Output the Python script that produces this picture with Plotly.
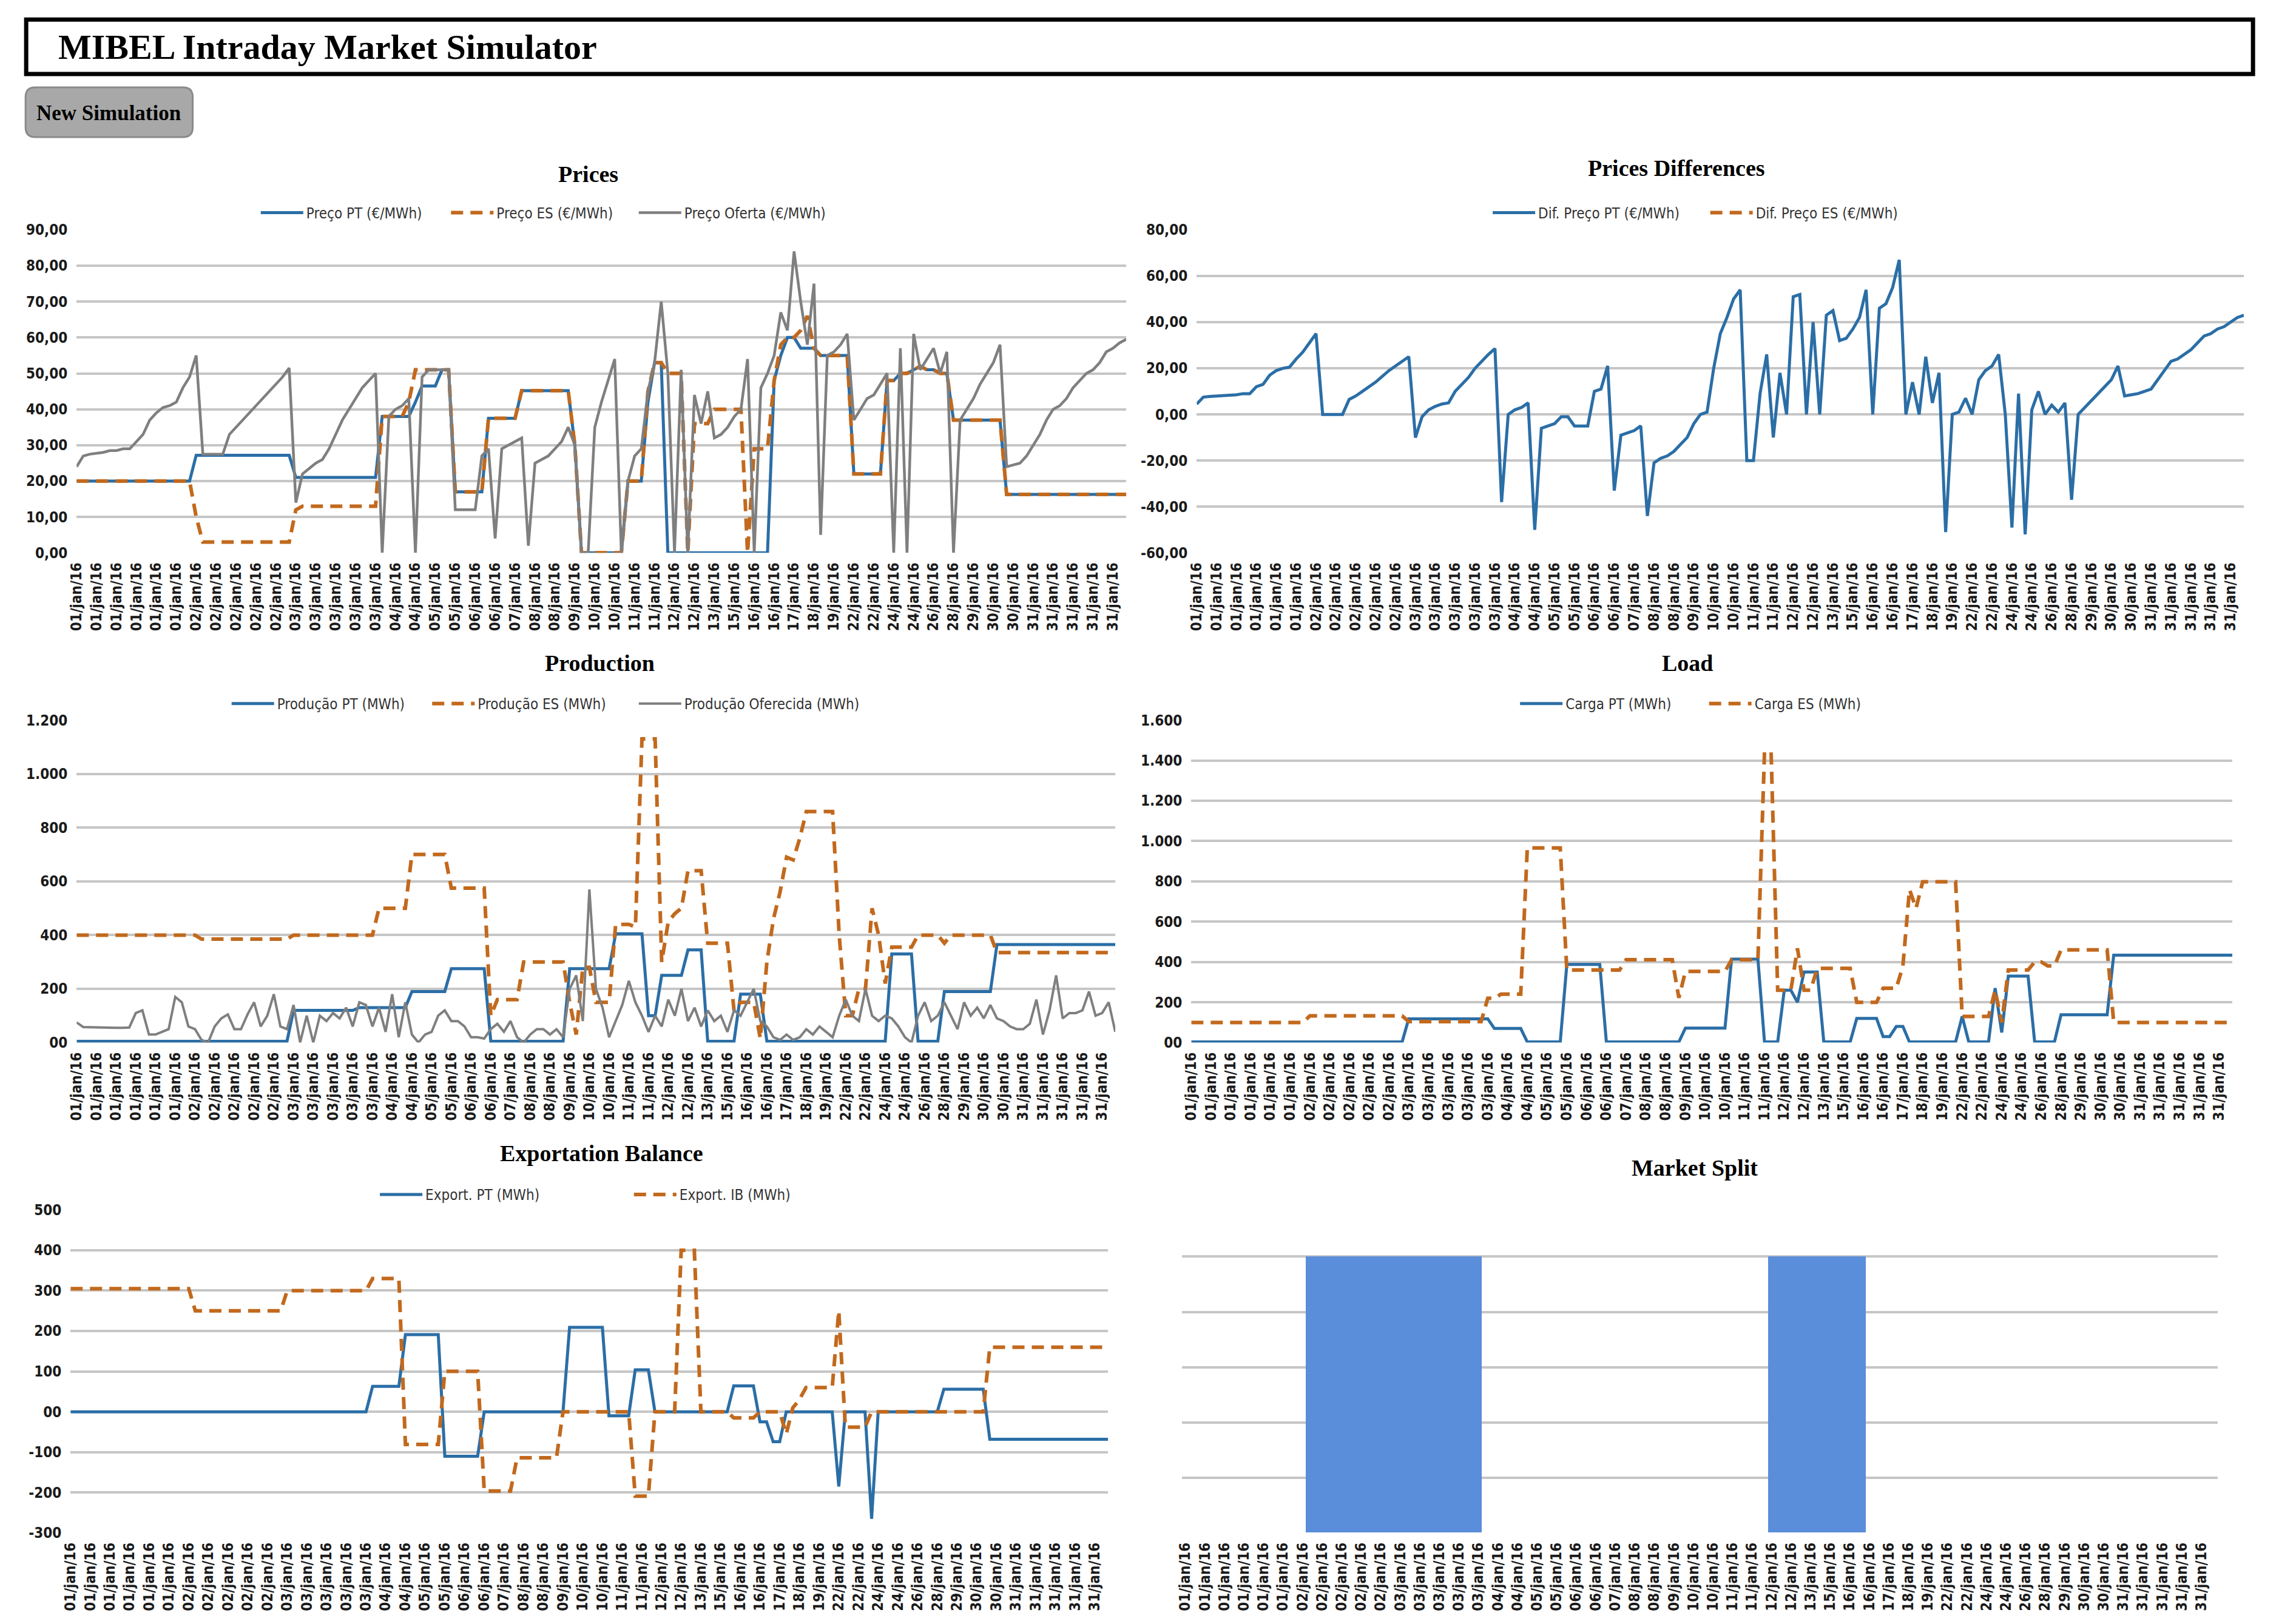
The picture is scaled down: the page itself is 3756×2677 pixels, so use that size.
import plotly.graph_objects as go

# reference canvas; figure inset by the page's 8px body margin
W, H = 3756, 2677
OFF = 8
FW, FH = W - 2 * OFF, H - 2 * OFF

# ---------------- data ----------------
x_labels = [
    "01/jan/16", "01/jan/16", "01/jan/16", "01/jan/16", "01/jan/16", "01/jan/16",
    "02/jan/16", "02/jan/16", "02/jan/16", "02/jan/16", "02/jan/16",
    "03/jan/16", "03/jan/16", "03/jan/16", "03/jan/16", "03/jan/16",
    "04/jan/16", "04/jan/16", "05/jan/16", "05/jan/16", "06/jan/16", "06/jan/16",
    "07/jan/16", "08/jan/16", "08/jan/16", "09/jan/16", "10/jan/16", "10/jan/16",
    "11/jan/16", "11/jan/16", "12/jan/16", "12/jan/16", "13/jan/16", "15/jan/16",
    "16/jan/16", "16/jan/16", "17/jan/16", "18/jan/16", "19/jan/16", "22/jan/16",
    "22/jan/16", "24/jan/16", "24/jan/16", "26/jan/16", "28/jan/16", "29/jan/16",
    "30/jan/16", "30/jan/16", "31/jan/16", "31/jan/16", "31/jan/16", "31/jan/16",
    "31/jan/16",
]

preco_pt = [
    20, 20, 20, 20, 20, 20, 20, 20, 20, 20,
    20, 20, 20, 20, 20, 20, 20, 20, 27.2, 27.2,
    27.2, 27.2, 27.2, 27.2, 27.2, 27.2, 27.2, 27.2, 27.2, 27.2,
    27.2, 27.2, 27.2, 21, 21, 21, 21, 21, 21, 21,
    21, 21, 21, 21, 21, 21, 38, 38, 38, 38,
    38, 42, 46.5, 46.5, 46.5, 51, 51, 17, 17, 17,
    17, 17, 37.5, 37.5, 37.5, 37.5, 37.5, 45.2, 45.2, 45.2,
    45.2, 45.2, 45.2, 45.2, 45.2, 30, 0, 0, 0, 0,
    0, 0, 0, 20, 20, 20, 42, 53, 53, 0,
    0, 0, 0, 0, 0, 0, 0, 0, 0, 0,
    0, 0, 0, 0, 0, 48, 55, 60, 60, 57,
    57, 57, 55, 55, 55, 55, 55, 22, 22, 22,
    22, 22, 48, 48, 50, 50, 51, 52, 51, 51,
    50, 50, 37, 37, 37, 37, 37, 37, 37, 37,
    16.3, 16.3, 16.3, 16.3, 16.3, 16.3, 16.3, 16.3, 16.3, 16.3,
    16.3, 16.3, 16.3, 16.3, 16.3, 16.3, 16.3, 16.3, 16.3,
]

preco_es = [
    20, 20, 20, 20, 20, 20, 20, 20, 20, 20,
    20, 20, 20, 20, 20, 20, 20, 20, 10, 3,
    3, 3, 3, 3, 3, 3, 3, 3, 3, 3,
    3, 3, 3, 12, 13, 13, 13, 13, 13, 13,
    13, 13, 13, 13, 13, 13, 38, 38, 38, 38,
    42, 51, 51, 51, 51, 51, 51, 17, 17, 17,
    17, 17, 37.5, 37.5, 37.5, 37.5, 37.5, 45.2, 45.2, 45.2,
    45.2, 45.2, 45.2, 45.2, 45.2, 30, 0, 0, 0, 0,
    0, 0, 0, 20, 20, 20, 45, 53, 53, 50,
    50, 50, 0, 36, 36, 36, 40, 40, 40, 40,
    40, 0, 29, 29, 29, 48, 58, 60, 60, 62,
    66, 57, 55, 55, 55, 55, 55, 22, 22, 22,
    22, 22, 48, 48, 50, 50, 51, 52, 51, 51,
    50, 50, 37, 37, 37, 37, 37, 37, 37, 37,
    16.3, 16.3, 16.3, 16.3, 16.3, 16.3, 16.3, 16.3, 16.3, 16.3,
    16.3, 16.3, 16.3, 16.3, 16.3, 16.3, 16.3, 16.3, 16.3,
]

preco_oferta = [
    24, 27, 27.5, 27.8, 28, 28.5, 28.5, 29, 29, 31,
    33, 37, 39, 40.5, 41, 42, 46, 49, 55, 27.5,
    27.5, 27.5, 27.5, 33, 35, 37, 39, 41, 43, 45,
    47, 49, 51.5, 14, 22, 23.5, 25, 26, 29, 33,
    37, 40, 43, 46, 48, 50, 0, 38, 40, 41,
    43, 0, 49, 51, 51, 51, 51, 12, 12, 12,
    12, 27, 29, 4, 29, 30, 31, 32, 2, 25,
    26, 27, 29, 31, 35, 30, 0, 0, 35, 42,
    48, 54, 0, 20, 27, 29, 45, 53, 70, 50,
    0, 51, 0, 44, 36, 45, 32, 33, 35, 38,
    40, 54, 0, 46, 50, 55, 67, 62, 84, 70,
    58, 75, 5, 55, 56, 58, 61, 37, 40, 43,
    44, 47, 50, 0, 57, 0, 61, 51, 54, 57,
    50, 56, 0, 37, 40, 43, 47, 50, 53, 58,
    24, 24.5, 25, 27, 30, 33, 37, 40, 41, 43,
    46, 48, 50, 51, 53, 56, 57, 58.5, 59.5,
]

dif_preco_pt = [
    4.5, 7.5, 7.8, 8, 8, 8.2, 8.5, 9, 9, 12,
    13, 17, 19, 20, 20.5, 24, 27, 31, 35, 0,
    0, 0, 0, 6.5, 8, 10, 12, 14, 16.5, 19,
    21, 23, 25, -10, -1, 2, 3.5, 4.5, 5, 10,
    13, 16, 20, 23, 26, 28.5, -38, 0, 2, 3,
    5, -50, -6, -5, -4, -1, -1, -5, -5, -5,
    10, 11, 21, -33, -9, -8, -7, -5, -44, -21,
    -19, -18, -16, -13, -10, -4, 0, 1, 20, 35,
    42, 50, 54, -20, -20, 9, 26, -10, 18, 0,
    51, 52, 0, 40, 0, 43, 45, 32, 33, 37,
    42, 54, 0, 46, 48, 55, 67, 0, 14, 0,
    25, 5, 18, -51, 0, 1, 7, 0, 15, 19,
    21, 26, 0, -49, 9, -52, 2, 10, 0, 4,
    1, 5, -37, 0, 3, 6, 9, 12, 15, 21,
    8, 8.5, 9, 10, 11, 15, 19, 23, 24, 26,
    28, 31, 34, 35, 37, 38, 40, 42, 43,
]

producao_pt = [
    5, 5, 5, 5, 5, 5, 5, 5, 5, 5,
    5, 5, 5, 5, 5, 5, 5, 5, 5, 5,
    5, 5, 5, 5, 5, 5, 5, 5, 5, 5,
    5, 5, 5, 120, 120, 120, 120, 120, 120, 120,
    120, 120, 120, 130, 130, 130, 130, 130, 130, 130,
    130, 190, 190, 190, 190, 190, 190, 275, 275, 275,
    275, 275, 275, 5, 5, 5, 5, 5, 5, 5,
    5, 5, 5, 5, 5, 275, 275, 275, 275, 275,
    275, 275, 405, 405, 405, 405, 405, 100, 100, 250,
    250, 250, 250, 345, 345, 345, 5, 5, 5, 5,
    5, 180, 180, 180, 180, 5, 5, 5, 5, 5,
    5, 5, 5, 5, 5, 5, 5, 5, 5, 5,
    5, 5, 5, 5, 330, 330, 330, 330, 5, 5,
    5, 5, 190, 190, 190, 190, 190, 190, 190, 190,
    365, 365, 365, 365, 365, 365, 365, 365, 365, 365,
    365, 365, 365, 365, 365, 365, 365, 365, 365,
]

producao_es = [
    400, 400, 400, 400, 400, 400, 400, 400, 400, 400,
    400, 400, 400, 400, 400, 400, 400, 400, 400, 385,
    385, 385, 385, 385, 385, 385, 385, 385, 385, 385,
    385, 385, 385, 400, 400, 400, 400, 400, 400, 400,
    400, 400, 400, 400, 400, 400, 500, 500, 500, 500,
    500, 700, 700, 700, 700, 700, 700, 575, 575, 575,
    575, 575, 575, 100, 160, 160, 160, 160, 300, 300,
    300, 300, 300, 300, 300, 150, 30, 280, 280, 150,
    150, 150, 440, 440, 440, 430, 1130, 1130, 1130, 300,
    450, 480, 500, 640, 640, 640, 370, 370, 370, 370,
    120, 150, 150, 150, 15, 300, 460, 560, 690, 680,
    760, 860, 860, 860, 860, 860, 400, 100, 100, 200,
    200, 500, 400, 220, 355, 355, 355, 355, 400, 400,
    400, 400, 370, 400, 400, 400, 400, 400, 400, 400,
    335, 335, 335, 335, 335, 335, 335, 335, 335, 335,
    335, 335, 335, 335, 335, 335, 335, 335, 335,
]

producao_oferecida = [
    75, 58, 57, 56, 56, 55, 55, 55, 56, 110,
    120, 30, 30, 40, 50, 170, 150, 60, 50, 10,
    0, 60, 90, 105, 50, 50, 105, 150, 60, 100,
    180, 60, 50, 140, 0, 100, 0, 100, 80, 110,
    90, 130, 60, 150, 140, 60, 130, 40, 180, 20,
    150, 30, 0, 30, 40, 100, 120, 80, 80, 60,
    20, 20, 15, 50, 70, 40, 80, 20, 0, 30,
    50, 50, 30, 50, 20, 200, 250, 80, 570, 200,
    130, 20, 80, 140, 230, 150, 100, 40, 100, 60,
    160, 100, 200, 80, 130, 60, 120, 80, 100, 40,
    120, 100, 150, 200, 80, 60, 20, 10, 30, 10,
    20, 50, 30, 60, 40, 20, 100, 160, 100, 80,
    200, 100, 80, 100, 90, 60, 20, 0, 100, 150,
    80, 100, 150, 100, 50, 150, 100, 130, 90, 140,
    90, 80, 60, 50, 50, 70, 160, 30, 120, 250,
    90, 110, 110, 120, 190, 100, 110, 150, 40,
]

carga_pt = [
    3, 3, 3, 3, 3, 3, 3, 3, 3, 3,
    3, 3, 3, 3, 3, 3, 3, 3, 3, 3,
    3, 3, 3, 3, 3, 3, 3, 3, 3, 3,
    3, 3, 3, 118, 118, 118, 118, 118, 118, 118,
    118, 118, 118, 118, 118, 118, 70, 70, 70, 70,
    70, 3, 3, 3, 3, 3, 3, 388, 388, 388,
    388, 388, 388, 3, 3, 3, 3, 3, 3, 3,
    3, 3, 3, 3, 3, 72, 72, 72, 72, 72,
    72, 72, 414, 414, 414, 414, 414, 3, 3, 3,
    260, 260, 200, 350, 350, 350, 3, 3, 3, 3,
    3, 120, 120, 120, 120, 30, 30, 80, 80, 3,
    3, 3, 3, 3, 3, 3, 3, 130, 3, 3,
    3, 3, 270, 50, 330, 330, 330, 330, 3, 3,
    3, 3, 138, 138, 138, 138, 138, 138, 138, 138,
    434, 434, 434, 434, 434, 434, 434, 434, 434, 434,
    434, 434, 434, 434, 434, 434, 434, 434, 434,
]

carga_es = [
    100, 100, 100, 100, 100, 100, 100, 100, 100, 100,
    100, 100, 100, 100, 100, 100, 100, 100, 133, 133,
    133, 133, 133, 133, 133, 133, 133, 133, 133, 133,
    133, 133, 133, 104, 104, 104, 104, 104, 104, 104,
    104, 104, 104, 104, 104, 220, 220, 240, 240, 240,
    240, 966, 966, 966, 966, 966, 966, 360, 360, 360,
    360, 360, 360, 360, 360, 360, 411, 411, 411, 411,
    411, 411, 411, 411, 222, 353, 353, 353, 353, 353,
    353, 353, 411, 411, 411, 411, 411, 1442, 1442, 260,
    260, 260, 468, 260, 260, 368, 368, 368, 368, 368,
    368, 200, 200, 200, 200, 270, 270, 270, 380, 759,
    667, 798, 798, 798, 798, 798, 798, 130, 130, 130,
    130, 130, 260, 100, 360, 360, 360, 360, 400, 400,
    380, 380, 460, 460, 460, 460, 460, 460, 460, 460,
    100, 100, 100, 100, 100, 100, 100, 100, 100, 100,
    100, 100, 100, 100, 100, 100, 100, 100, 100,
]

export_pt = [
    0, 0, 0, 0, 0, 0, 0, 0, 0, 0,
    0, 0, 0, 0, 0, 0, 0, 0, 0, 0,
    0, 0, 0, 0, 0, 0, 0, 0, 0, 0,
    0, 0, 0, 0, 0, 0, 0, 0, 0, 0,
    0, 0, 0, 0, 0, 0, 63, 63, 63, 63,
    63, 191, 191, 191, 191, 191, 191, -110, -110, -110,
    -110, -110, -110, 0, 0, 0, 0, 0, 0, 0,
    0, 0, 0, 0, 0, 0, 209, 209, 209, 209,
    209, 209, -10, -10, -10, -10, 104, 104, 104, 0,
    0, 0, 0, 0, 0, 0, 0, 0, 0, 0,
    0, 64, 64, 64, 64, -25, -25, -74, -74, 0,
    0, 0, 0, 0, 0, 0, 0, -185, 0, 0,
    0, 0, -265, 0, 0, 0, 0, 0, 0, 0,
    0, 0, 0, 56, 56, 56, 56, 56, 56, 56,
    -68, -68, -68, -68, -68, -68, -68, -68, -68, -68,
    -68, -68, -68, -68, -68, -68, -68, -68, -68,
]

export_ib = [
    305, 305, 305, 305, 305, 305, 305, 305, 305, 305,
    305, 305, 305, 305, 305, 305, 305, 305, 305, 250,
    250, 250, 250, 250, 250, 250, 250, 250, 250, 250,
    250, 250, 250, 300, 300, 300, 300, 300, 300, 300,
    300, 300, 300, 300, 300, 300, 330, 330, 330, 330,
    330, -81, -81, -81, -81, -81, -81, 100, 100, 100,
    100, 100, 100, -196, -196, -196, -196, -196, -114, -114,
    -114, -114, -114, -114, -114, 0, 0, 0, 0, 0,
    0, 0, 0, 0, 0, 0, -209, -209, -209, 0,
    0, 0, 0, 400, 400, 400, 0, 0, 0, 0,
    0, -15, -15, -15, -15, 0, 0, 0, 0, -55,
    10, 30, 60, 60, 60, 60, 60, 250, -38, -38,
    -38, -38, 0, 0, 0, 0, 0, 0, 0, 0,
    0, 0, 0, 0, 0, 0, 0, 0, 0, 0,
    160, 160, 160, 160, 160, 160, 160, 160, 160, 160,
    160, 160, 160, 160, 160, 160, 160, 160, 160,
]

market_split = [
    0, 0, 0, 0, 0, 0, 0, 0, 0, 0,
    0, 0, 0, 0, 0, 0, 0, 0, 0, 1,
    1, 1, 1, 1, 1, 1, 1, 1, 1, 1,
    1, 1, 1, 1, 1, 1, 1, 1, 1, 1,
    1, 1, 1, 1, 1, 1, 0, 0, 0, 0,
    0, 0, 0, 0, 0, 0, 0, 0, 0, 0,
    0, 0, 0, 0, 0, 0, 0, 0, 0, 0,
    0, 0, 0, 0, 0, 0, 0, 0, 0, 0,
    0, 0, 0, 0, 0, 0, 0, 0, 0, 0,
    1, 1, 1, 1, 1, 1, 1, 1, 1, 1,
    1, 1, 1, 1, 1, 0, 0, 0, 0, 0,
    0, 0, 0, 0, 0, 0, 0, 0, 0, 0,
    0, 0, 0, 0, 0, 0, 0, 0, 0, 0,
    0, 0, 0, 0, 0, 0, 0, 0, 0, 0,
    0, 0, 0, 0, 0, 0, 0, 0, 0, 0,
    0, 0, 0, 0, 0, 0, 0, 0, 0,
]

prices_ticks = [0, 10, 20, 30, 40, 50, 60, 70, 80, 90]
prices_ticktext = ["0,00", "10,00", "20,00", "30,00", "40,00", "50,00", "60,00", "70,00", "80,00", "90,00"]
diff_ticks = [-60, -40, -20, 0, 20, 40, 60, 80]
diff_ticktext = ["-60,00", "-40,00", "-20,00", "0,00", "20,00", "40,00", "60,00", "80,00"]
prod_ticks = [0, 200, 400, 600, 800, 1000, 1200]
prod_ticktext = ["00", "200", "400", "600", "800", "1.000", "1.200"]
load_ticks = [0, 200, 400, 600, 800, 1000, 1200, 1400, 1600]
load_ticktext = ["00", "200", "400", "600", "800", "1.000", "1.200", "1.400", "1.600"]
exp_ticks = [-300, -200, -100, 0, 100, 200, 300, 400, 500]
exp_ticktext = ["-300", "-200", "-100", "00", "100", "200", "300", "400", "500"]
split_ticks = [0, 0.2, 0.4, 0.6, 0.8, 1.0, 1.2]

# ---------------- styling ----------------
BLUE = "#2B6EA6"
ORANGE = "#C2691D"
GREY = "#7F7F7F"
GRID = "#C6C6C6"
NARROW = "Liberation Sans Narrow, Arial Narrow, DejaVu Sans Condensed, sans-serif"
SERIF = "Liberation Serif, Times New Roman, serif"


def PX(p):
    q = p * 1.0054 - 15
    return (q - OFF) / FW


def PY(p):
    q = p * 1.0097 - 10
    return 1 - (q - OFF) / FH


tick_pos = list(range(0, 159, 3))

fig = go.Figure()
DASH = "20px,12px"


def line(y, name, color, width, dash, ax, legend):
    fig.add_trace(go.Scatter(
        x=list(range(len(y))), y=y, name=name, mode="lines",
        line=dict(color=color, width=width, dash=dash),
        xaxis="x" + ax, yaxis="y" + ax, legend=legend,
        hoverinfo="skip",
    ))


# Prices
line(preco_pt, "Preço PT (€/MWh)", BLUE, 5, "solid", "", "legend")
line(preco_es, "Preço ES (€/MWh)", ORANGE, 6, DASH, "", "legend2")
line(preco_oferta, "Preço Oferta (€/MWh)", GREY, 4.5, "solid", "", "legend3")
# Prices differences
line(dif_preco_pt, "Dif. Preço PT (€/MWh)", BLUE, 5, "solid", "2", "legend4")
fig.add_trace(go.Scatter(x=[None], y=[None], name="Dif. Preço ES (€/MWh)", mode="lines",
                         line=dict(color=ORANGE, width=6, dash=DASH),
                         xaxis="x2", yaxis="y2", legend="legend5"))
# Production
line(producao_pt, "Produção PT (MWh)", BLUE, 5, "solid", "3", "legend6")
line(producao_es, "Produção ES (MWh)", ORANGE, 6, DASH, "3", "legend7")
line(producao_oferecida, "Produção Oferecida (MWh)", GREY, 4, "solid", "3", "legend8")
# Load
line(carga_pt, "Carga PT (MWh)", BLUE, 5, "solid", "4", "legend9")
line(carga_es, "Carga ES (MWh)", ORANGE, 6, DASH, "4", "legend10")
# Exportation
line(export_pt, "Export. PT (MWh)", BLUE, 5, "solid", "5", "legend11")
line(export_ib, "Export. IB (MWh)", ORANGE, 6, DASH, "5", "legend12")
# Market split
fig.add_trace(go.Bar(
    x=list(range(len(market_split))), y=market_split, width=1,
    marker=dict(color="#5A8DDA", line=dict(width=0)),
    xaxis="x6", yaxis="y6", showlegend=False, hoverinfo="skip",
))

# plot boxes (reference pixels)
boxes = {
    "": (127, 1854, 375, 908),
    "2": (1970, 3693, 375, 908),
    "3": (127, 1836, 1184, 1716),
    "4": (1961, 3674, 1184, 1716),
    "5": (117, 1824, 1992, 2525),
    "6": (1946, 3650, 1978, 2525),
}
yspec = {
    "": ([0, 90], prices_ticks, prices_ticktext),
    "2": ([-60, 80], diff_ticks, diff_ticktext),
    "3": ([0, 1200], prod_ticks, prod_ticktext),
    "4": ([0, 1600], load_ticks, load_ticktext),
    "5": ([-300, 500], exp_ticks, exp_ticktext),
    "6": ([0, 1.2], split_ticks, None),
}

layout = dict(
    width=FW, height=FH, autosize=False,
    margin=dict(l=0, r=0, t=0, b=0),
    paper_bgcolor="white", plot_bgcolor="white",
    bargap=0,
)
for ax, (x0, x1, y0, y1) in boxes.items():
    xr = [-0.5, 158.5] if ax == "6" else [0, 158]
    layout["xaxis" + ax] = dict(
        domain=[PX(x0), PX(x1)], anchor="y" + ax, range=xr,
        tickmode="array", tickvals=tick_pos, ticktext=x_labels,
        tickangle=-90, showgrid=False, zeroline=False, showline=False,
        ticks="", ticklabelstandoff=10,
        tickfont=dict(family=NARROW, size=24, color="#1a1a1a", weight="bold"),
        fixedrange=True,
    )
    rng, tv, tt = yspec[ax]
    yd = dict(
        domain=[PY(y1), PY(y0)], anchor="x" + ax, range=rng,
        tickmode="array", tickvals=tv,
        showgrid=True, gridcolor=GRID, gridwidth=4,
        zeroline=False, showline=False, ticks="", ticklabelstandoff=14,
        tickfont=dict(family=NARROW, size=24, color="#1a1a1a", weight="bold"),
        fixedrange=True,
    )
    if tt is None:
        yd["showticklabels"] = False
    else:
        yd["ticktext"] = tt
    layout["yaxis" + ax] = yd

# one legend per entry, placed where the reference shows it
legend_pos = [
    (430, 347), (743, 347), (1052, 347),
    (2457, 347), (2815, 347),
    (382, 1157), (712, 1157), (1052, 1157),
    (2502, 1157), (2813, 1157),
    (626, 1967), (1044, 1967),
]
for i, (lx, ly) in enumerate(legend_pos):
    key = "legend" if i == 0 else "legend%d" % (i + 1)
    layout[key] = dict(
        orientation="h", x=PX(lx - 5), y=PY(ly),
        xanchor="left", yanchor="middle", bgcolor="rgba(0,0,0,0)",
        font=dict(family=NARROW, size=24, color="#333333"),
        itemwidth=70,
    )

fig.update_layout(**layout)

# ---------------- header ----------------
shapes = []
shapes.append(dict(type="rect", xref="paper", yref="paper",
                   x0=PX(44), x1=PX(3708), y0=PY(118), y1=PY(28),
                   line=dict(color="black", width=7), fillcolor="white", layer="below"))
bx0, bx1, by0, by1, r = 43, 318, 140, 222, 16
path = (f"M {PX(bx0 + r)},{PY(by0)} L {PX(bx1 - r)},{PY(by0)} "
        f"Q {PX(bx1)},{PY(by0)} {PX(bx1)},{PY(by0 + r)} "
        f"L {PX(bx1)},{PY(by1 - r)} Q {PX(bx1)},{PY(by1)} {PX(bx1 - r)},{PY(by1)} "
        f"L {PX(bx0 + r)},{PY(by1)} Q {PX(bx0)},{PY(by1)} {PX(bx0)},{PY(by1 - r)} "
        f"L {PX(bx0)},{PY(by0 + r)} Q {PX(bx0)},{PY(by0)} {PX(bx0 + r)},{PY(by0)} Z")
shapes.append(dict(type="path", xref="paper", yref="paper", path=path,
                   fillcolor="#A8A8A8", line=dict(color="#8A8A8A", width=3), layer="below"))
fig.update_layout(shapes=shapes)

ann = []
ann.append(dict(text="MIBEL Intraday Market Simulator", xref="paper", yref="paper",
                x=PX(95), y=PY(73), xanchor="left", yanchor="middle", showarrow=False,
                font=dict(family=SERIF, size=58, color="black", weight="bold")))
ann.append(dict(text="New Simulation", xref="paper", yref="paper",
                x=PX(180), y=PY(182), xanchor="center", yanchor="middle", showarrow=False,
                font=dict(family=SERIF, size=35, color="black", weight="bold")))
titles = [
    ("Prices", 969, 283),
    ("Prices Differences", 2759, 273),
    ("Production", 988, 1090),
    ("Load", 2777, 1090),
    ("Exportation Balance", 991, 1899),
    ("Market Split", 2789, 1923),
]
for t, x, y in titles:
    ann.append(dict(text=t, xref="paper", yref="paper", x=PX(x), y=PY(y),
                    xanchor="center", yanchor="middle", showarrow=False,
                    font=dict(family=SERIF, size=38, color="black", weight="bold")))
fig.update_layout(annotations=ann)

fig.write_html("out.html")
